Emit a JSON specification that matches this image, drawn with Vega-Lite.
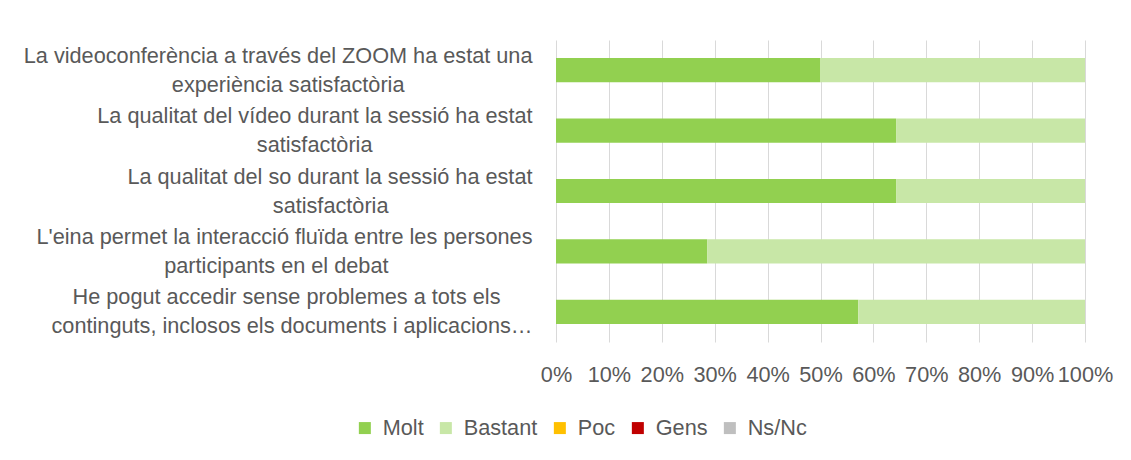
{
  "$schema": "https://vega.github.io/schema/vega-lite/v6.json",
  "width": 529,
  "height": 302,
  "autosize": "none",
  "padding": {"left": 556, "top": 40, "right": 46, "bottom": 118},
  "background": "white",
  "data": {
    "values": [
      {"pregunta": "La videoconferència a través del ZOOM ha estat una\nexperiència satisfactòria", "resposta": "Molt", "percentatge": 0.5},
      {"pregunta": "La videoconferència a través del ZOOM ha estat una\nexperiència satisfactòria", "resposta": "Bastant", "percentatge": 0.5},
      {"pregunta": "La qualitat del vídeo durant la sessió ha estat\nsatisfactòria", "resposta": "Molt", "percentatge": 0.6429},
      {"pregunta": "La qualitat del vídeo durant la sessió ha estat\nsatisfactòria", "resposta": "Bastant", "percentatge": 0.3571},
      {"pregunta": "La qualitat del so durant la sessió ha estat\nsatisfactòria", "resposta": "Molt", "percentatge": 0.6429},
      {"pregunta": "La qualitat del so durant la sessió ha estat\nsatisfactòria", "resposta": "Bastant", "percentatge": 0.3571},
      {"pregunta": "L'eina permet la interacció fluïda entre les persones\nparticipants en el debat", "resposta": "Molt", "percentatge": 0.2857},
      {"pregunta": "L'eina permet la interacció fluïda entre les persones\nparticipants en el debat", "resposta": "Bastant", "percentatge": 0.7143},
      {"pregunta": "He pogut accedir sense problemes a tots els\ncontinguts, inclosos els documents i aplicacions…", "resposta": "Molt", "percentatge": 0.5714},
      {"pregunta": "He pogut accedir sense problemes a tots els\ncontinguts, inclosos els documents i aplicacions…", "resposta": "Bastant", "percentatge": 0.4286}
    ]
  },
  "mark": {"type": "bar"},
  "encoding": {
    "y": {
      "field": "pregunta",
      "type": "nominal",
      "sort": null,
      "scale": {"paddingInner": 0.6, "paddingOuter": 0.3},
      "axis": {
        "title": null,
        "domain": false,
        "ticks": false,
        "grid": false,
        "labelFontSize": 21.7,
        "labelColor": "#595959",
        "labelPadding": 24,
        "labelLimit": 0,
        "labelLineHeight": 29,
        "labelOffset": -14.5,
        "labelExpr": "[pad(split(datum.label,'\\n')[0], length(split(datum.label,'\\n')[0]) + max(0, round((length(split(datum.label,'\\n')[1]) - length(split(datum.label,'\\n')[0])) * 0.3)), '\u2800', 'right'), pad(split(datum.label,'\\n')[1], length(split(datum.label,'\\n')[1]) + max(0, round((length(split(datum.label,'\\n')[0]) - length(split(datum.label,'\\n')[1])) * 0.3)), '\u2800', 'right')]"
      }
    },
    "x": {
      "field": "percentatge",
      "type": "quantitative",
      "stack": "normalize",
      "scale": {"domain": [0, 1]},
      "axis": {
        "title": null,
        "format": "%",
        "values": [0, 0.1, 0.2, 0.3, 0.4, 0.5, 0.6, 0.7, 0.8, 0.9, 1],
        "domain": false,
        "ticks": false,
        "gridColor": "#d9d9d9",
        "gridWidth": 1,
        "labelFontSize": 21.7,
        "labelColor": "#595959",
        "labelPadding": 22,
        "labelOverlap": false,
        "labelFlush": false
      }
    },
    "order": {"field": "resposta", "sort": "descending"},
    "color": {
      "field": "resposta",
      "type": "nominal",
      "sort": ["Molt", "Bastant", "Poc", "Gens", "Ns/Nc"],
      "scale": {
        "domain": ["Molt", "Bastant", "Poc", "Gens", "Ns/Nc"],
        "range": ["#92d050", "#c8e7a7", "#ffc000", "#c00000", "#bfbfbf"]
      },
      "legend": {
        "title": null,
        "orient": "none",
        "direction": "horizontal",
        "legendX": -202,
        "legendY": 377,
        "symbolType": "square",
        "symbolSize": 144,
        "symbolStrokeWidth": 0,
        "labelFontSize": 21.7,
        "labelColor": "#595959",
        "labelOffset": 7,
        "columnPadding": 11
      }
    }
  },
  "config": {
    "view": {"stroke": null},
    "font": "Liberation Sans"
  }
}
